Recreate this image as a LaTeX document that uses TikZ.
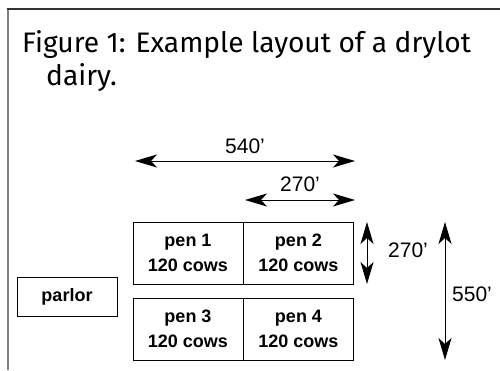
\documentclass[tikz,border=0pt]{standalone}
\usepackage{fontspec}
\setmainfont{Liberation Sans}
\newfontfamily\titlefont{Fira Sans}
\usetikzlibrary{arrows.meta}
\tikzset{
  pen/.style={draw=black, line width=0.9pt, minimum width=110pt, minimum height=62pt,
    inner sep=0pt, align=center, font=\fontsize{18}{25}\selectfont\bfseries},
  parlorbox/.style={draw=black, line width=0.9pt, minimum width=100pt, minimum height=39pt,
    inner sep=0pt, font=\fontsize{18}{20}\selectfont\bfseries},
  dim/.style={line width=1pt, {Stealth[length=22pt,width=13pt,inset=6pt]}-{Stealth[length=22pt,width=13pt,inset=6pt]}},
  dimlabel/.style={inner sep=0pt, font=\fontsize{21}{24}\selectfont},
  caption/.style={anchor=base west, inner sep=0pt, font=\titlefont\fontsize{28.2}{33}\selectfont},
}
\begin{document}
\begin{tikzpicture}[x=1pt, y=-1pt]
  \useasboundingbox (0,0) rectangle (500,370);
  % page frame
  \draw[line width=2pt, black!50] (7.5,370) -- (7.5,9);
  \draw[line width=1.2pt, black!80] (6.5,9) -- (500,9);
  % caption
  \node[caption] (title1) at (22,52) {Figure 1: Example layout of a drylot};
  \node[caption] (title2) at (46,85) {dairy.};
  % pens and parlor
  \node[pen] (pen1) at (188,253) {pen 1\\120 cows};
  \node[pen] (pen2) at (298.5,253) {pen 2\\120 cows};
  \node[pen] (pen3) at (188,329) {pen 3\\120 cows};
  \node[pen] (pen4) at (298.5,329) {pen 4\\120 cows};
  \node[parlorbox] (parlor) at (67,296.5) {parlor};
  % dimension arrows
  \coordinate (w1a) at (135,161);
  \coordinate (w1b) at (355,161);
  \coordinate (w2a) at (245,200);
  \coordinate (w2b) at (355,200);
  \coordinate (h1a) at (367,222);
  \coordinate (h1b) at (367,284);
  \coordinate (h2a) at (445,222);
  \coordinate (h2b) at (445,360);
  \draw[dim] (w1a) -- (w1b);
  \draw[dim] (w2a) -- (w2b);
  \draw[dim] (h1a) -- (h1b);
  \draw[dim] (h2a) -- (h2b);
  \node[dimlabel] (l540) at (245,146) {540’};
  \node[dimlabel] (l270a) at (300,184) {270’};
  \node[dimlabel] (l270b) at (408,250) {270’};
  \node[dimlabel] (l550) at (472,294) {550’};
\end{tikzpicture}
\end{document}
